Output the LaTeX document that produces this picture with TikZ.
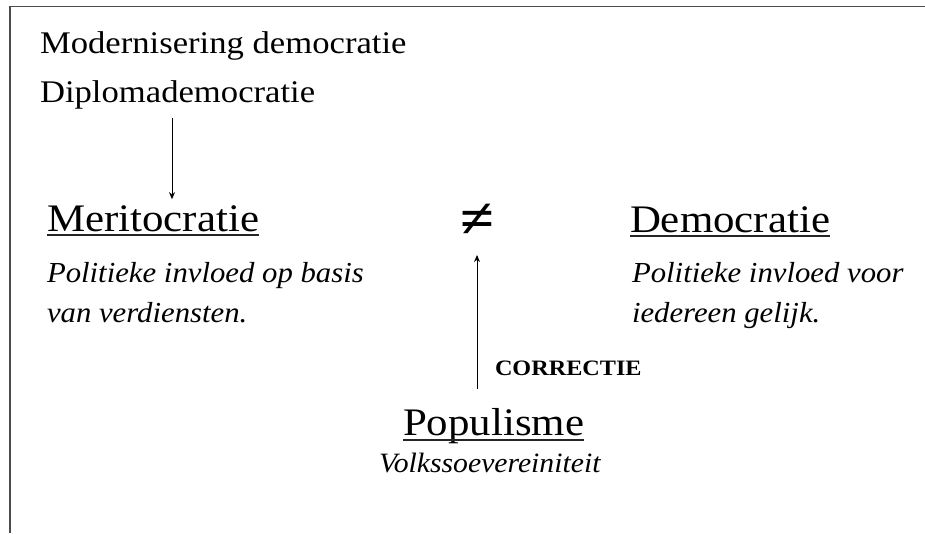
\documentclass[tikz,border=0pt]{standalone}
\usepackage{fontspec}
\setmainfont{Liberation Serif}[FakeStretch=1.1]
\newfontfamily\itfont{Liberation Serif Italic}[FakeStretch=1.06]
\usetikzlibrary{arrows.meta,calc}
\begin{document}
\begin{tikzpicture}[x=1pt,y=-1pt,
  txt/.style={inner sep=0pt,outer sep=0pt,anchor=base west,text=black},
  toptxt/.style={txt,font=\fontsize{31.5}{38}\selectfont},
  head/.style={txt,font=\fontsize{39}{45}\selectfont},
  desc/.style={txt,font=\itfont\fontsize{29}{40}\selectfont,align=left},
  arr/.style={draw=black,line width=0.9pt,-{Stealth[length=7pt,width=6pt]}},
  uline/.style={draw=black!85,line width=1.6pt},
  frame/.style={draw=black!70,line width=1.8pt}]
\useasboundingbox (0,0) rectangle (925,533);
\draw[frame] (925,6.5) -- (10,6.5) -- (10,533);
\node[toptxt] (mod) at (40,53) {Modernisering democratie};
\node[toptxt] (dip) at (40,102) {Diplomademocratie};
\node[head] (mer) at (47,231) {Meritocratie};
\node[head] (dem) at (630,232) {Democratie};
\node[head] (pop) at (403,435) {Populisme};
\node[txt,font=\bfseries\fontsize{22}{26}\selectfont] (cor) at (495,375) {CORRECTIE};
\node[txt,font=\itfont\fontsize{28}{34}\selectfont] (vol) at (379,472) {Volkssoevereiniteit};
\node[desc] (merd) at (47,322) {Politieke invloed op basis\\van verdiensten.};
\node[desc] (demd) at (632,322) {Politieke invloed voor\\iedereen gelijk.};
\node[txt,font=\bfseries\fontsize{56}{60}\selectfont,anchor=base] (neq) at (477,237) {≠};
\coordinate (a1) at (172,118);
\coordinate (b1) at (477,389);
\draw[arr] (a1) -- ($(a1 |- mer.north)+(0,-6)$);
\draw[arr] (b1) -- ($(neq.base)+(0,18)$);
\draw[uline] ($(mer.base west)+(0,4)$) -- ($(mer.base east)+(0,4)$);
\draw[uline] ($(dem.base west)+(0,4)$) -- ($(dem.base east)+(0,4)$);
\draw[uline] ($(pop.base west)+(0,5)$) -- ($(pop.base east)+(0,5)$);
\end{tikzpicture}
\end{document}
